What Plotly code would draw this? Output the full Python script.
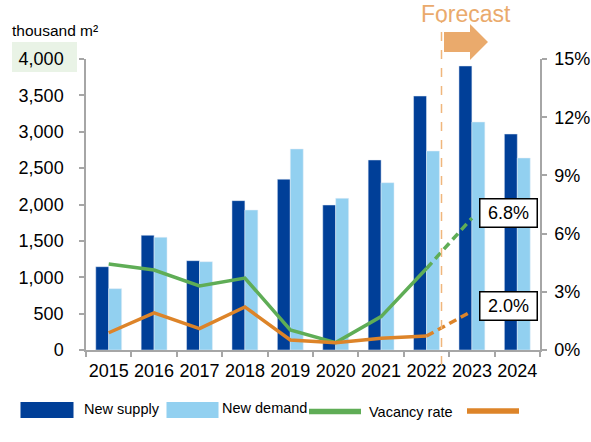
import plotly.graph_objects as go

years = ["2015", "2016", "2017", "2018", "2019", "2020", "2021", "2022", "2023", "2024"]
new_supply = [1145, 1577, 1228, 2053, 2348, 1993, 2612, 3491, 3904, 2969]
new_demand = [843, 1549, 1214, 1924, 2763, 2085, 2300, 2735, 3134, 2639]
vacancy_rate = [4.43, 4.12, 3.30, 3.71, 1.03, 0.38, 1.72, 4.2, 6.8]
other_rate = [0.89, 1.91, 1.10, 2.22, 0.52, 0.38, 0.60, 0.72, 2.0]
left_ticks = [0, 500, 1000, 1500, 2000, 2500, 3000, 3500, 4000]
right_ticks = [0, 3, 6, 9, 12, 15]
right_tick_labels = ["0%", "3%", "6%", "9%", "12%", "15%"]
forecast_start = 7  # index of last actual year (2022)

FONT = "Liberation Sans, Arial, sans-serif"
C_SUPPLY = "rgb(0,63,152)"
C_DEMAND = "rgb(146,208,240)"
C_GREEN = "rgb(95,173,86)"
C_ORANGE = "rgb(221,132,41)"
C_FORE = "rgb(234,170,108)"
C_AXIS = "rgb(166,166,166)"
DASH = "8px,5px"

W, H = 591, 442
L, R, T, B = 86, 51, 59, 92
PW, PH = W - L - R, H - T - B


def px(x):
    return (x - L) / PW


def py(y):
    return (H - B - y) / PH


fig = go.Figure()
fig.add_bar(x=years, y=new_supply, marker_color=C_SUPPLY, name="New supply")
fig.add_bar(x=years, y=new_demand, marker_color=C_DEMAND, name="New demand")

n = forecast_start + 1
fig.add_scatter(x=years[:n], y=vacancy_rate[:n], yaxis="y2", mode="lines",
                line=dict(color=C_GREEN, width=3.5), name="Vacancy rate")
fig.add_scatter(x=years[forecast_start:len(vacancy_rate)], y=vacancy_rate[forecast_start:],
                yaxis="y2", mode="lines", line=dict(color=C_GREEN, width=3.5, dash=DASH))
fig.add_scatter(x=years[:n], y=other_rate[:n], yaxis="y2", mode="lines",
                line=dict(color=C_ORANGE, width=3.5))
fig.add_scatter(x=years[forecast_start:len(other_rate)], y=other_rate[forecast_start:],
                yaxis="y2", mode="lines", line=dict(color=C_ORANGE, width=3.5, dash=DASH))

fig.update_layout(
    width=W, height=H,
    margin=dict(l=L, r=R, t=T, b=B, pad=0, autoexpand=False),
    paper_bgcolor="white", plot_bgcolor="white",
    font=dict(family=FONT, size=18, color="black"),
    showlegend=False,
    barmode="group", bargap=0.43, bargroupgap=0,
    xaxis=dict(type="category", showgrid=False, showline=True, linecolor=C_AXIS, linewidth=1.5,
               ticks="outside", ticklen=5, tickcolor=C_AXIS, tickwidth=1.5, tickangle=0,
               tickson="boundaries", tickfont=dict(size=18), ticklabelstandoff=4, automargin=False),
    yaxis=dict(range=[0, 4000], tickvals=left_ticks, tickformat=",", showgrid=False,
               showline=True, linecolor=C_AXIS, linewidth=1.5, ticks="outside", ticklen=5,
               tickcolor=C_AXIS, tickwidth=1.5, zeroline=False, tickfont=dict(size=18),
               ticklabelstandoff=12, automargin=False),
    yaxis2=dict(range=[0, 15], tickvals=right_ticks, ticktext=right_tick_labels,
                overlaying="y", side="right",
                showgrid=False, showline=True, linecolor=C_AXIS, linewidth=1.5, ticks="outside",
                ticklen=5, tickcolor=C_AXIS, tickwidth=1.5, zeroline=False,
                tickfont=dict(size=18), ticklabelstandoff=4, automargin=False),
)

shapes = []
# green highlight behind 4,000
shapes.append(dict(type="rect", xref="paper", yref="paper", x0=px(12), x1=px(77), y0=py(72), y1=py(42),
                   fillcolor="rgb(233,243,230)", line=dict(width=0), layer="below"))
# forecast dashed line
shapes.append(dict(type="line", xref="paper", yref="paper", x0=px(441.5), x1=px(441.5), y0=py(365), y1=py(22),
                   line=dict(color="rgb(240,182,124)", width=1.5, dash="dash")))
# forecast arrow
pts = [(444, 32), (470, 32), (470, 24), (488, 42), (470, 60), (470, 52), (444, 52)]
path = "M " + " L ".join(f"{px(a):.5f},{py(b):.5f}" for a, b in pts) + " Z"
shapes.append(dict(type="path", xref="paper", yref="paper", path=path,
                   fillcolor=C_FORE, line=dict(width=0)))
# legend swatches
shapes.append(dict(type="rect", xref="paper", yref="paper", x0=px(20.5), x1=px(73.5), y0=py(418), y1=py(402),
                   fillcolor=C_SUPPLY, line=dict(width=0)))
shapes.append(dict(type="rect", xref="paper", yref="paper", x0=px(166.5), x1=px(218.5), y0=py(418), y1=py(402),
                   fillcolor=C_DEMAND, line=dict(width=0)))
shapes.append(dict(type="line", xref="paper", yref="paper", x0=px(309), x1=px(361), y0=py(411.5), y1=py(411.5),
                   line=dict(color=C_GREEN, width=5.5)))
shapes.append(dict(type="line", xref="paper", yref="paper", x0=px(467), x1=px(519), y0=py(411), y1=py(411),
                   line=dict(color=C_ORANGE, width=5.5)))
fig.update_layout(shapes=shapes)

ann = []
ann.append(dict(text="thousand m²", xref="paper", yref="paper", x=px(10), y=py(31), xanchor="left",
                yanchor="middle", showarrow=False, font=dict(size=15.5)))
ann.append(dict(text="Forecast", xref="paper", yref="paper", x=px(466), y=py(14), xanchor="center",
                yanchor="middle", showarrow=False, font=dict(size=23, color=C_FORE)))
ann.append(dict(text=f"{vacancy_rate[-1]:.1f}%", xref="paper", yref="paper", x=px(508), y=py(212.5),
                xanchor="center", yanchor="middle", showarrow=False, font=dict(size=18),
                bgcolor="white", bordercolor="black", borderwidth=1.5, borderpad=1, width=54, height=25))
ann.append(dict(text=f"{other_rate[-1]:.1f}%", xref="paper", yref="paper", x=px(508), y=py(305.5),
                xanchor="center", yanchor="middle", showarrow=False, font=dict(size=18),
                bgcolor="white", bordercolor="black", borderwidth=1.5, borderpad=1, width=54, height=25))
for label, x0, yc in [("New supply", 82, 409), ("New demand", 220, 408), ("Vacancy rate", 367, 412)]:
    ann.append(dict(text=label, xref="paper", yref="paper", x=px(x0), y=py(yc), xanchor="left",
                    yanchor="middle", showarrow=False, font=dict(size=14.5)))
fig.update_layout(annotations=ann)

fig.write_html("out.html", config={"displayModeBar": False},
               post_script="document.body.style.margin='0';document.body.style.padding='0';")
